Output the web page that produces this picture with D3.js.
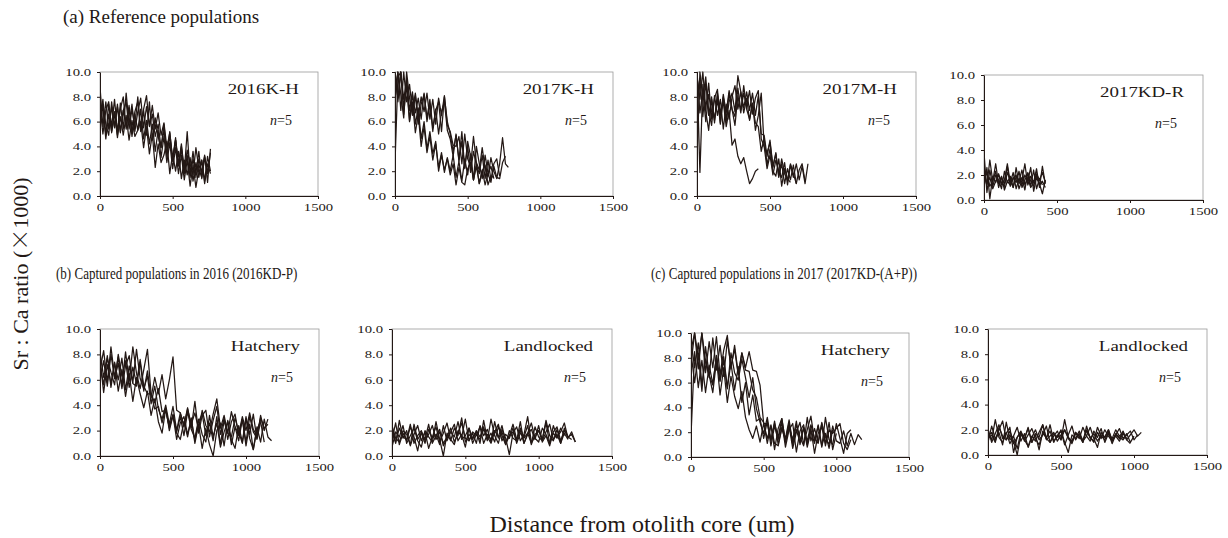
<!DOCTYPE html>
<html lang="en">
<head>
<meta charset="UTF-8">
<title>Sr:Ca profiles</title>
<script src="https://cdn.jsdelivr.net/npm/d3@7"></script>
<style>
    body { margin: 0; background: #fff; }
    svg text { font-family: "Liberation Serif", "Times New Roman", serif; fill: #231815; }
</style>
</head>
<body>
<svg id="chart" width="1228" height="538"></svg>
<script>
// tick labels
const xTicks = [0, 500, 1000, 1500];
const yTicks = [0, 2, 4, 6, 8, 10];

// sampling interval along the transect (um)
const stepRef = 20;   // reference populations
const stepCap = 25;   // captured populations

// (a) 2016K-H
const kh2016 = [
    [8.8,5.6,7.6,5.4,7.2,5.5,7.4,5.2,6.9,5.6,7.3,5.1,6.8,7.6,5.3,7.0,8.1,5.6,6.6,4.8,5.8,3.9,5.3,3.4,4.8,2.9,4.5,2.4,3.8,1.8,3.3,1.5,3.0,1.9,3.6,1.4,3.2,1.8,3.5],
    [6.0,7.8,4.9,7.4,5.6,7.8,5.2,7.0,8.0,5.4,7.1,4.8,6.6,5.3,7.0,4.6,6.1,4.2,5.8,3.6,5.3,3.1,4.8,2.7,4.3,2.2,3.9,1.8,3.3,1.3,2.9,0.8,2.5,0.7,2.2,2.9,1.2,3.2,2.0],
    [7.2,5.0,6.9,7.6,5.1,6.7,4.9,7.5,5.4,8.3,5.8,7.4,5.2,6.8,7.9,5.5,7.2,5.7,7.3,5.4,6.7,4.9,5.9,3.9,5.1,3.0,4.7,2.5,4.0,2.0,5.2,1.7,3.6,1.5,3.0,1.9,3.3,1.1,3.8],
    [6.6,7.1,4.6,6.6,5.2,6.8,4.7,6.4,4.9,6.5,4.5,6.1,4.8,5.3,6.0,3.9,5.6,3.4,5.0,2.3,4.2,2.7,3.3,4.4,1.8,3.4,2.0,3.6,1.4,2.9,1.7,3.1,1.2,2.7,1.5,2.9,1.0,2.6,1.8],
    [5.6,7.4,5.8,4.9,7.6,5.6,7.2,5.1,6.9,7.6,5.4,7.0,5.6,8.0,5.2,6.9,4.9,7.6,4.5,6.3,4.8,3.9,5.8,3.2,5.2,2.8,4.5,2.5,4.2,2.0,3.7,2.6,1.7,3.9,2.2,1.5,3.1,2.0]
];
// (a) 2017K-H
const kh2017 = [
    [2.6,9.6,10.0,7.8,9.4,6.9,8.4,5.8,7.1,4.6,6.0,3.8,5.2,3.4,4.4,2.0,3.3,2.1,3.0,1.7,2.6,0.9,2.3,1.1,0.9,2.2,2.7,1.3,2.4,1.0,2.1,0.9,1.8,2.4,1.4],
    [9.8,7.6,10.0,7.2,8.9,6.0,7.6,5.1,6.6,4.0,5.6,3.5,4.8,2.9,4.2,2.3,3.5,1.9,3.1,2.0,3.3,1.5,2.8,1.2,3.0,1.7,3.4,1.3,2.6,1.0,2.0,2.5,0.9,1.6,1.5],
    [8.6,10.0,6.9,10.0,7.6,9.0,6.8,8.3,6.4,8.0,6.8,8.3,6.2,7.8,5.8,7.9,6.5,8.1,5.7,5.2,4.1,4.0,4.8,2.6,5.0,3.0,2.4,4.8,2.7,2.1,3.9,2.2,1.6,3.1,2.0,1.4,2.6,4.7,2.6,2.3],
    [10.0,7.9,10.0,6.6,9.3,6.1,8.2,6.7,7.9,6.2,8.3,6.0,7.4,5.2,7.0,5.0,6.8,7.6,5.3,4.6,3.2,5.0,2.8,4.4,2.3,4.0,1.9,3.6,2.5,1.8,3.3,1.4,2.9,1.3,2.4,1.5,1.4,2.7,3.2],
    [7.8,10.0,8.2,6.3,10.0,7.9,6.5,8.1,5.8,7.4,8.2,6.3,7.8,5.5,6.9,7.6,5.2,8.0,6.0,5.0,3.6,4.9,2.9,5.2,2.2,4.4,3.2,1.3,4.0,2.6,1.4,3.3,1.8,1.1,2.6,3.0,1.6]
];
// (a) 2017M-H
const mh2017 = [
    [10.0,1.9,9.0,6.8,5.3,7.8,6.1,8.1,6.5,7.6,5.6,6.9,4.1,4.6,3.2,2.6,3.1,2.0,1.0,1.4,2.0,2.2],
    [3.0,10.0,8.0,9.6,6.5,8.0,5.9,8.3,6.7,7.9,6.0,7.6,8.3,6.8,9.7,8.4,7.1,8.4,6.9,8.3,6.5,8.1,5.0,4.9,3.2,4.5,2.4,3.4,1.6,2.6,1.0,2.2,1.3,2.5,1.0],
    [9.6,7.8,10.0,7.0,9.1,6.2,7.9,8.6,5.8,8.2,6.7,8.5,7.0,6.4,8.7,6.9,8.3,7.2,8.5,6.6,7.9,8.5,4.6,4.0,2.2,3.3,1.7,2.9,2.0,1.5,2.7,0.9,2.5,1.5,2.6,1.3,2.4,1.0,2.6],
    [8.0,9.5,6.4,9.1,6.9,5.7,8.1,6.5,7.8,5.4,7.4,6.2,8.0,8.9,7.0,8.4,6.7,7.9,6.1,7.5,5.3,6.5,8.3,4.0,3.5,4.3,2.3,3.5,1.5,3.0,1.8,1.3,2.6,1.8,1.0,2.1,2.6,1.2],
    [10.0,6.7,8.5,6.0,8.2,6.8,6.3,7.7,5.9,8.0,6.2,8.3,7.0,5.7,8.1,6.7,8.9,7.0,6.2,7.4,5.9,5.6,3.6,4.7,2.5,3.8,2.0,1.6,3.0,0.8,2.2,1.4,1.1]
];
// (a) 2017KD-R
const kdr2017 = [
    [3.8,0.6,2.4,1.1,2.0,1.6,0.9,2.3,1.4,1.9,1.0,2.6,1.3,1.8,0.8,2.2,1.5,1.1,2.0,1.3,0.5,1.6],
    [2.0,1.2,3.2,1.5,2.3,1.0,1.8,1.3,2.7,1.1,1.7,2.0,0.9,1.6,2.9,1.2,1.9,1.4,2.5,1.0,2.7,1.3],
    [1.0,2.6,0.1,1.9,1.4,2.1,1.2,1.6,2.9,1.4,2.2,0.9,1.7,1.2,2.0,1.5,2.6,0.7,1.8,1.2,1.5,1.0],
    [1.6,2.2,1.1,1.5,2.9,1.3,1.9,0.8,1.5,1.2,1.8,1.4,2.3,1.0,1.6,2.1,1.1,2.4,0.9,1.7,1.2],
    [2.4,1.3,1.8,0.9,1.5,2.0,1.4,1.1,2.2,1.6,1.0,1.9,1.5,2.4,1.2,1.8,1.0,1.4,2.1,1.6,2.2,1.4]
];
// (b) 2016KD-P hatchery
const hatch2016 = [
    [7.2,5.6,7.9,5.4,7.3,6.0,7.7,5.2,7.1,5.7,5.5,7.4,5.1,6.7,4.6,6.2,4.9,6.4,4.5,6.0,7.8,3.6,3.4,2.3,3.7,2.5,3.4,2.1,3.6,2.4,1.9,3.3,4.5,2.2,3.2,1.8,3.5,2.3,1.7,3.1,2.0,3.4,2.1,1.6,3.0,2.2,2.5],
    [6.8,8.3,5.8,8.6,6.2,7.8,5.5,8.2,5.9,8.6,6.5,5.3,6.8,8.4,4.9,4.2,5.3,3.5,3.6,2.3,3.3,1.9,3.1,1.6,3.5,2.1,1.4,2.9,1.7,1.1,3.2,1.5,2.6,0.7,1.9,2.7,0.9,2.3,1.2,2.9,0.8,2.5,0.5,2.1,2.7,1.1],
    [7.6,5.0,7.2,5.7,7.4,5.1,6.8,4.7,6.5,4.3,6.2,4.9,3.8,5.1,3.2,4.5,2.7,1.8,3.7,2.2,3.2,1.8,1.3,2.7,1.5,3.0,1.0,2.5,0.6,2.2,0.9,0.0,2.0,2.6,0.8,2.8,1.3,0.6,2.4,1.1,3.1,1.4,0.5,2.3,1.1,2.9,1.5,1.2],
    [6.0,7.5,5.5,8.0,6.1,7.3,5.3,7.1,7.9,5.8,8.4,6.1,5.3,6.3,4.1,5.5,3.7,2.9,4.0,2.5,3.9,2.0,3.4,2.4,3.8,2.2,4.3,1.8,3.2,3.6,1.5,2.8,3.9,1.7,3.0,1.3,2.7,3.3,1.6,2.9,1.1,3.1,1.9,1.4,3.2,2.0,2.9],
    [8.2,6.2,7.7,6.6,5.6,8.0,6.3,7.5,5.4,7.0,5.7,7.6,5.5,4.9,4.9,3.7,3.9,2.6,3.8,2.0,3.2,1.3,2.6,3.1,1.7,2.9,1.2,2.7,3.3,1.6,2.6,1.2,3.1,0.9,2.8,1.8,1.5,3.0,1.9,1.0,2.9,1.7,3.3,1.3,2.7]
];
// (b) 2016KD-P landlocked
const land2016 = [
    [2.1,1.0,2.8,1.4,2.0,0.8,1.7,2.4,1.2,1.9,0.6,1.5,2.3,1.1,1.8,2.6,1.3,0.9,2.0,1.5,2.9,1.2,1.8,1.0,2.4,1.6,2.1,1.1,2.7,1.4,1.9,0.9,1.6,2.5,1.3,2.0,1.0,1.8,2.6,1.4,1.1,2.2,1.7,1.0,2.4,1.5,1.9,2.6,1.4,1.9,1.1],
    [1.3,2.6,0.9,1.8,1.2,2.3,1.5,0.4,1.9,1.3,2.5,1.0,1.6,2.1,0.8,1.4,1.9,2.5,1.2,1.7,0.7,2.2,1.4,1.9,1.0,2.8,1.3,1.8,1.1,2.3,1.6,0.9,2.0,1.4,1.2,2.7,1.0,1.7,2.1,1.3,2.4,1.1,1.6,0.8,1.9,2.3,1.2,2.0,1.5,1.3],
    [0.7,1.9,1.5,2.4,1.0,1.6,2.2,1.2,0.7,2.0,1.5,1.1,2.7,1.3,0.0,1.8,1.2,2.2,1.6,3.0,1.1,1.7,1.3,2.0,1.5,2.3,1.2,2.9,1.6,1.0,2.1,1.4,0.1,1.8,2.3,1.2,1.7,3.1,1.1,1.5,2.0,1.3,2.6,1.0,1.8,1.4,2.2,1.6],
    [2.4,1.4,1.1,2.0,1.7,0.9,2.5,1.3,1.8,1.0,2.1,1.4,1.7,0.9,2.4,1.2,1.9,1.5,2.7,1.3,1.6,2.2,1.0,1.7,1.3,2.1,1.5,1.0,1.9,2.5,1.2,1.7,1.4,2.2,1.0,1.8,1.5,2.4,0.9,1.7,2.0,1.3,2.8,1.6,1.2,2.1,1.0,1.8,1.3],
    [1.8,1.1,2.2,1.5,1.3,2.5,1.0,1.6,2.0,1.2,1.7,2.4,1.3,1.9,1.0,1.5,2.2,1.1,1.8,2.6,1.4,1.2,1.9,1.6,2.3,1.0,1.7,1.3,2.0,1.5,2.4,1.1,1.6,1.9,1.2,2.2,1.4,1.8,1.0,2.3,1.5,1.2,1.9,2.5,1.3,1.7,1.0,2.2,1.5,1.7,1.1]
];
// (c) 2017KD-(A+P) hatchery
const hatch2017 = [
    [1.7,8.5,5.6,7.8,5.2,7.4,5.9,8.0,5.0,7.2,4.4,6.5,4.9,3.9,5.3,3.2,2.2,1.5,2.5,1.2,2.7,1.5,2.5,1.1,0.9,2.3,1.3,2.8,1.0,2.2,1.2,2.4,0.8,2.1,1.1,2.6,0.9,1.9,0.7,2.2],
    [7.5,10.0,8.0,10.0,6.8,9.3,7.2,9.7,6.6,8.6,9.8,7.1,9.0,6.7,8.4,7.0,6.9,5.4,4.8,3.2,2.8,1.1,2.6,0.6,2.3,3.1,1.2,2.5,0.7,2.0,2.8,1.0,2.2,3.3,1.3,2.5,0.8,3.2,1.4,1.0,2.7,1.5,0.3,1.9,2.2],
    [8.6,10.0,7.1,10.0,7.7,6.4,9.6,7.0,9.0,6.5,9.4,7.3,8.7,6.6,8.4,7.2,8.5,7.0,6.9,5.8,2.7,2.7,1.3,2.9,1.0,2.4,1.5,3.0,1.1,2.6,1.6,0.9,3.2,1.3,2.3,1.2,2.7,1.6,1.0,2.5,1.3,1.1,2.1,0.9,1.9,1.0,1.8,1.4],
    [9.4,7.2,9.2,5.8,7.9,6.6,5.2,7.7,6.1,8.1,5.6,7.6,5.4,7.3,4.4,6.0,3.4,5.0,2.9,3.1,1.5,2.9,0.9,2.5,1.4,2.8,0.8,2.2,2.7,0.4,2.1,2.6,1.0,2.3,0.3,1.9,2.4,1.1,2.8,0.6,1.9],
    [8.4,6.0,8.3,5.3,8.9,6.6,5.8,8.2,6.2,7.8,5.5,8.4,6.8,6.2,7.9,6.4,4.8,6.4,3.9,2.8,1.9,3.2,1.4,2.7,1.6,3.1,1.2,2.4,1.4,2.9,1.0,2.3,1.3,2.6,1.5,1.1,2.8,0.9,2.2,1.9,2.3,2.7,1.1,0.6,1.4]
];
// (c) 2017KD-(A+P) landlocked
const land2017 = [
    [2.1,1.0,1.7,2.4,1.3,1.8,0.9,1.5,2.2,1.1,1.7,0.6,1.4,2.0,1.2,1.6,2.3,1.0,1.5,1.9,1.2,2.8,1.4,1.0,1.8,1.3,2.2,1.5,1.1,1.9,1.4,2.1,1.0,1.7,1.3,2.0,1.5,1.8,1.2,1.6,2.0,1.5,1.8],
    [1.0,2.3,1.3,1.8,0.8,2.6,1.2,1.5,0.5,1.8,1.3,2.2,1.0,1.6,0.4,1.9,1.3,2.4,1.1,1.5,1.9,0.8,1.6,2.3,1.2,1.7,1.0,2.0,1.4,1.1,2.2,1.5,1.2,1.8,0.9,1.6,2.1,1.3,1.7,1.0,1.5],
    [1.5,1.8,1.1,2.0,2.7,1.2,1.6,0.9,1.4,1.9,1.2,0.7,1.5,1.1,1.8,2.4,1.3,1.0,1.7,1.4,2.0,1.0,0.2,1.6,1.3,1.9,1.1,1.5,2.2,1.3,0.6,1.8,1.4,2.0,1.1,1.6,1.3,1.9,1.2,0.9],
    [1.8,1.2,2.8,1.4,1.0,1.7,2.2,0.2,1.4,1.8,1.1,1.6,2.1,1.3,0.8,1.7,1.4,1.9,1.0,1.6,1.2,2.0,1.4,1.1,1.8,1.5,1.0,2.3,1.3,1.7,1.1,1.6,1.4,2.0,1.2,1.5,1.1,1.7,1.3],
    [1.3,1.6,1.0,2.2,1.5,1.2,1.9,1.1,0.0,1.6,1.3,2.1,1.0,1.7,1.4,2.4,1.2,1.5,1.8,1.1,1.6,2.0,1.3,0.9,1.7,1.5,1.2,1.9,1.4,1.0,1.8,1.3,2.0,1.5,1.1,1.7,1.4,1.2,1.6,1.9,1.2,1.6]
];

const ink = "#231815";

// panel layout: [left, top, right, bottom] of the plot area
const panels = [
    { name: "2016K-H",    series: kh2016,    step: stepRef, box: [100, 72, 318, 196] },
    { name: "2017K-H",    series: kh2017,    step: stepRef, box: [395, 72, 613, 196] },
    { name: "2017M-H",    series: mh2017,    step: stepRef, box: [697, 72, 916, 196] },
    { name: "2017KD-R",   series: kdr2017,   step: stepRef, box: [984, 75, 1203, 200] },
    { name: "Hatchery",   series: hatch2016, step: stepCap, box: [100, 329, 319, 456] },
    { name: "Landlocked", series: land2016,  step: stepCap, box: [392, 329, 612, 456] },
    { name: "Hatchery",   series: hatch2017, step: stepCap, box: [691, 333, 909, 457] },
    { name: "Landlocked", series: land2017,  step: stepCap, box: [988, 329, 1207, 455] }
];

const svg = d3.select("#chart");

// horizontal scaling of text (the original figure was stretched / condensed)
function widen(sel, k) {
    sel.each(function () {
        const t = d3.select(this);
        const x = +t.attr("x") || 0;
        t.attr("x", x / k).attr("transform", `scale(${k},1)`);
    });
    return sel;
}

panels.forEach((p, i) => {
    const [x0, y0, x1, y1] = p.box;
    const x = d3.scaleLinear().domain([0, 1500]).range([x0, x1]);
    const y = d3.scaleLinear().domain([0, 10]).range([y1, y0]);
    const g = svg.append("g");

    g.append("rect")
        .attr("x", x0).attr("y", y0)
        .attr("width", x1 - x0).attr("height", y1 - y0)
        .attr("fill", "none").attr("stroke", "#9a9a9a").attr("stroke-width", 0.8);

    g.append("clipPath").attr("id", "clip" + i)
        .append("rect").attr("x", x0).attr("y", y0 - 1).attr("width", x1 - x0).attr("height", y1 - y0 + 1);

    const line = d3.line()
        .x((d, j) => x(j * p.step))
        .y(d => y(d));

    g.append("g").attr("clip-path", "url(#clip" + i + ")")
        .selectAll("path").data(p.series).join("path")
        .attr("d", line)
        .attr("fill", "none").attr("stroke", ink)
        .attr("stroke-width", 1.25).attr("stroke-linejoin", "round");

    const yAxis = g.append("g").attr("transform", `translate(${x0},0)`)
        .call(d3.axisLeft(y).tickValues(yTicks).tickFormat(d3.format(".1f")).tickSize(3).tickSizeOuter(0).tickPadding(6));
    const xAxis = g.append("g").attr("transform", `translate(0,${y1})`)
        .call(d3.axisBottom(x).tickValues(xTicks).tickFormat(d3.format("d")).tickSize(3).tickSizeOuter(0).tickPadding(5));

    [yAxis, xAxis].forEach(a => {
        a.attr("font-family", null);
        a.selectAll("path, line").attr("stroke", ink);
        a.selectAll("text").attr("font-size", "10.5px").attr("fill", ink);
        widen(a.selectAll("text"), 1.4);
    });

    widen(g.append("text")
        .attr("x", x1 - 19).attr("y", y0 + 22)
        .attr("text-anchor", "end").attr("font-size", "15.5px")
        .text(p.name), 1.22);

    const n = g.append("text")
        .attr("x", x1 - 26).attr("y", y0 + 53)
        .attr("text-anchor", "end").attr("font-size", "14px");
    n.append("tspan").attr("font-style", "italic").text("n");
    n.append("tspan").text("=5");
});

// section titles
svg.append("text").attr("x", 63).attr("y", 23).attr("font-size", "19px")
    .text("(a) Reference populations");
widen(svg.append("text").attr("x", 56).attr("y", 279).attr("font-size", "16.5px")
    .text("(b) Captured populations in 2016 (2016KD-P)"), 0.79);
widen(svg.append("text").attr("x", 651).attr("y", 279).attr("font-size", "16.5px")
    .text("(c) Captured populations in 2017 (2017KD-(A+P))"), 0.79);

// axis titles
const yt = svg.append("text")
    .attr("transform", "translate(28,274) rotate(-90)")
    .attr("text-anchor", "middle").attr("font-size", "22px");
yt.append("tspan").text("Sr : Ca ratio (");
yt.append("tspan").style("font-family", '"Noto Sans CJK JP"').attr("font-weight", 300).text("×");
yt.append("tspan").text("1000)");

svg.append("text")
    .attr("x", 642).attr("y", 532)
    .attr("text-anchor", "middle").attr("font-size", "24px")
    .text("Distance from otolith core (um)");
</script>
</body>
</html>
